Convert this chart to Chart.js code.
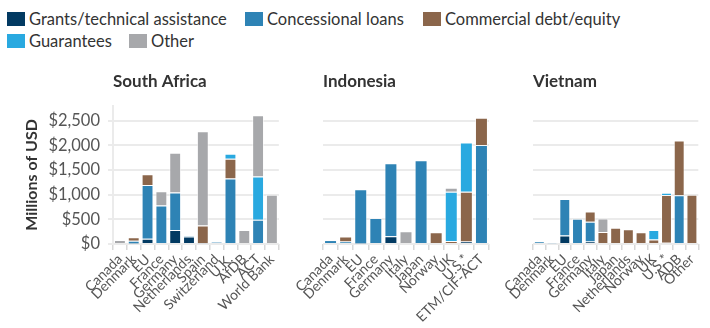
<!DOCTYPE html>
<html>
<head>
<meta charset="utf-8">
<script src="https://cdn.jsdelivr.net/npm/chart.js@4.4.1/dist/chart.umd.min.js"></script>
<style>
  body { margin: 0; background: #fff; font-family: Lato, sans-serif; }
  #wrap { position: relative; width: 710px; height: 328px; overflow: hidden; }
  .key { position: absolute; height: 22px; display: flex; align-items: center; font-size: 16.5px; color: #333; white-space: nowrap; }
  .key i { display: inline-block; width: 18px; height: 14px; margin-right: 4px; }
  canvas { position: absolute; }
</style>
</head>
<body>
<div id="wrap">
  <div class="key" style="left:7px;top:8px"><i style="background:#023a62"></i>Grants/technical assistance</div>
  <div class="key" style="left:245px;top:8px"><i style="background:#2e83b5"></i>Concessional loans</div>
  <div class="key" style="left:423px;top:8px"><i style="background:#8b664b"></i>Commercial debt/equity</div>
  <div class="key" style="left:7px;top:30px"><i style="background:#29a9e0"></i>Guarantees</div>
  <div class="key" style="left:129px;top:30px"><i style="background:#a7a8ab"></i>Other</div>
  <canvas id="southAfrica" style="left:0;top:55px" width="285" height="273"></canvas>
  <canvas id="indonesia" style="left:290px;top:55px" width="205" height="273"></canvas>
  <canvas id="vietnam" style="left:495px;top:55px" width="210" height="273"></canvas>
</div>
<script>
// Millions of USD by funder and instrument
const yTicks = [0, 500, 1000, 1500, 2000, 2500];

const saLabels = ["Canada", "Denmark", "EU", "France", "Germany", "Netherlands", "Spain", "Switzerland", "U.K.", "AfDB", "ACT", "World Bank"];
const saGrants = [0, 10, 105, 0, 285, 150, 0, 22, 20, 0, 0, 0];
const saConcessional = [0, 55, 1090, 780, 760, 20, 15, 12, 1310, 0, 490, 0];
const saCommercial = [0, 70, 220, 0, 0, 0, 360, 0, 400, 0, 0, 0];
const saGuarantees = [0, 0, 0, 0, 0, 0, 0, 0, 100, 0, 880, 0];
const saOther = [80, 0, 0, 290, 805, 0, 1915, 0, 0, 285, 1240, 1000];

const idLabels = ["Canada", "Denmark", "EU", "France", "Germany", "Italy", "Japan", "Norway", "UK", "U.S.*", "ETM/CIF-ACT"];
const idGrants = [0, 0, 10, 0, 155, 0, 0, 0, 0, 50, 20];
const idConcessional = [80, 50, 1100, 530, 1485, 0, 1700, 0, 0, 0, 1990];
const idCommercial = [0, 100, 0, 0, 0, 0, 0, 240, 60, 1010, 550];
const idGuarantees = [0, 0, 0, 0, 0, 0, 0, 0, 1000, 1000, 0];
const idOther = [0, 0, 0, 0, 0, 260, 0, 0, 80, 0, 0];

const vnLabels = ["Canada", "Denmark", "EU", "France", "Germany", "Italy", "Japan", "Netherlands", "Norway", "UK", "U.S.*", "ADB", "Other"];
const vnGrants = [0, 0, 175, 0, 50, 0, 0, 0, 0, 0, 25, 0, 0];
const vnConcessional = [47, 10, 740, 510, 400, 0, 0, 0, 0, 0, 0, 990, 0];
const vnCommercial = [0, 0, 0, 0, 210, 245, 330, 300, 240, 90, 970, 1110, 1000];
const vnGuarantees = [0, 0, 0, 0, 0, 0, 0, 0, 0, 195, 45, 0, 0];
const vnOther = [0, 0, 0, 0, 0, 270, 0, 0, 0, 0, 0, 0, 0];

const seriesNames = ["Grants/technical assistance", "Concessional loans", "Commercial debt/equity", "Guarantees", "Other"];
const seriesColors = ["#023a62", "#2e83b5", "#8b664b", "#29a9e0", "#a7a8ab"];

Chart.defaults.font.family = "Lato, sans-serif";
Chart.defaults.color = "#555";

// draws the country name above each plot, aligned with the plot's left edge
const panelTitle = {
  id: "panelTitle",
  afterDraw(chart, args, opts) {
    const ctx = chart.ctx;
    ctx.save();
    ctx.font = "bold 17px Lato, sans-serif";
    ctx.fillStyle = "#333";
    ctx.textBaseline = "middle";
    ctx.fillText(opts.text, chart.chartArea.left, 27);
    ctx.restore();
  }
};

function makePanel(id, title, labels, values, first, yWidth, padRight) {
  const datasets = values.map((v, i) => ({
    label: seriesNames[i],
    data: v,
    backgroundColor: seriesColors[i],
    borderColor: "rgba(255,255,255,0.55)",
    borderWidth: 1,
    categoryPercentage: 0.86,
    barPercentage: 1
  }));
  new Chart(document.getElementById(id), {
    type: "bar",
    data: { labels: labels, datasets: datasets },
    plugins: [panelTitle],
    options: {
      responsive: false,
      animation: false,
      layout: { padding: { top: 51, right: padRight, left: 0, bottom: 0 } },
      plugins: {
        legend: { display: false },
        tooltip: { enabled: false },
        panelTitle: { text: title }
      },
      scales: {
        x: {
          stacked: true,
          afterFit: (s) => { s.height = 84; },
          grid: { drawOnChartArea: false, drawTicks: true, tickLength: 6, color: "#d8d8d8", lineWidth: 1.5 },
          border: { display: false },
          ticks: { autoSkip: false, minRotation: 45, maxRotation: 45, padding: 1, font: { size: 14 }, color: "#555" }
        },
        y: {
          stacked: true,
          min: 0,
          max: 2800,
          afterFit: (s) => { s.width = yWidth; },
          afterBuildTicks: (s) => { s.ticks = yTicks.map(v => ({ value: v })); },
          grid: { color: "#ebebeb", lineWidth: 2, drawTicks: first, tickLength: 5 },
          border: { display: first, color: "#ebebeb", width: 2 },
          title: {
            display: first,
            text: "Millions of USD",
            font: { size: 16, weight: "bold" },
            color: "#333",
            padding: { top: 22 }
          },
          ticks: {
            display: first,
            autoSkip: false,
            padding: 8,
            font: { size: 16.5 },
            color: "#555",
            callback: (v) => "$" + v.toLocaleString("en-US")
          }
        }
      }
    }
  });
}

makePanel("southAfrica", "South Africa", saLabels, [saGrants, saConcessional, saCommercial, saGuarantees, saOther], true, 113, 5);
makePanel("indonesia", "Indonesia", idLabels, [idGrants, idConcessional, idCommercial, idGuarantees, idOther], false, 33, 6);
makePanel("vietnam", "Vietnam", vnLabels, [vnGrants, vnConcessional, vnCommercial, vnGuarantees, vnOther], false, 38, 5);
</script>
</body>
</html>
